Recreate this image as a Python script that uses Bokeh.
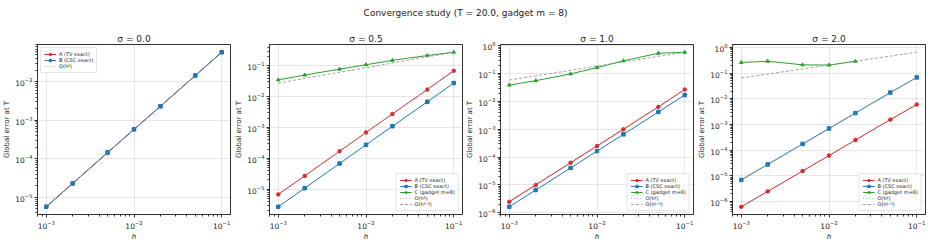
import numpy as np
from bokeh.plotting import figure
from bokeh.layouts import column, row
from bokeh.models import FixedTicker, Range1d, Legend, LegendItem
from bokeh.core.properties import value
from bokeh.embed import file_html
from bokeh.resources import INLINE

h = [0.001, 0.002, 0.005, 0.01, 0.02, 0.05, 0.1]
sigmas = ["0.0", "0.5", "1.0", "2.0"]

A0 = [5.7e-6, 2.3e-5, 1.45e-4, 5.8e-4, 2.3e-3, 1.45e-2, 5.8e-2]
B0 = [5.7e-6, 2.3e-5, 1.45e-4, 5.8e-4, 2.3e-3, 1.45e-2, 5.8e-2]

A1 = [6.8e-6, 2.7e-5, 1.7e-4, 6.9e-4, 2.75e-3, 1.7e-2, 6.9e-2]
B1 = [2.7e-6, 1.08e-5, 6.8e-5, 2.75e-4, 1.1e-3, 6.8e-3, 2.75e-2]
C1 = [0.035, 0.05, 0.078, 0.108, 0.15, 0.215, 0.275]

A2 = [2.5e-6, 1.0e-5, 6.3e-5, 2.5e-4, 1.0e-3, 6.4e-3, 2.7e-2]
B2 = [1.65e-6, 6.6e-6, 4.1e-5, 1.65e-4, 6.6e-4, 4.2e-3, 1.7e-2]
C2 = [0.039, 0.056, 0.098, 0.165, 0.29, 0.54, 0.59]

A3 = [6.3e-7, 2.5e-6, 1.55e-5, 6.2e-5, 2.5e-4, 1.55e-3, 6.0e-3]
B3 = [7.0e-6, 2.8e-5, 1.75e-4, 7.0e-4, 2.8e-3, 1.75e-2, 6.8e-2]
h3C = [0.001, 0.002, 0.005, 0.01, 0.02]
C3 = [0.26, 0.29, 0.21, 0.205, 0.29]

panels = [
    dict(A=A0, B=B0, hC=None, C=None, ref2=B0[-1], refhalf=None, loc="top_left"),
    dict(A=A1, B=B1, hC=h, C=C1, ref2=A1[-1], refhalf=C1[-1], loc="bottom_right"),
    dict(A=A2, B=B2, hC=h, C=C2, ref2=A2[-1], refhalf=C2[-1], loc="bottom_right"),
    dict(A=A3, B=B3, hC=h3C, C=C3, ref2=B3[-1], refhalf=0.65, loc="bottom_right"),
]

RED, BLUE, GREEN = "#d62728", "#1f77b4", "#2ca02c"
FONT = "DejaVu Sans"
TXT = "#222222"

widths = [232, 231, 232, 238]
rights = [2, 1, 2, 8]
figs = []
for i, (sig, d) in enumerate(zip(sigmas, panels)):
    harr = np.array(h)
    ref2 = d["ref2"] * (harr / h[-1]) ** 2
    series_vals = list(d["A"]) + list(d["B"]) + list(ref2)
    refh = None
    if d["C"] is not None:
        series_vals += list(d["C"])
        refh = d["refhalf"] * (harr / h[-1]) ** 0.5
        series_vals += list(refh)
    lo, hi = np.log10(min(series_vals)), np.log10(max(series_vals))
    m = 0.05 * (hi - lo)
    xlo, xhi = np.log10(h[0]), np.log10(h[-1])
    mx = 0.05 * (xhi - xlo)
    p = figure(x_axis_type="log", y_axis_type="log",
               x_range=Range1d(10 ** (xlo - mx), 10 ** (xhi + mx)),
               y_range=Range1d(10 ** (lo - m), 10 ** (hi + m)),
               width=widths[i], height=218,
               min_border_left=35, min_border_right=rights[i],
               min_border_top=19, min_border_bottom=25,
               output_backend="svg", toolbar_location=None,
               title="σ = " + sig)
    p.title.align = "center"
    p.title.text_font = FONT
    p.title.text_font_size = "9px"
    p.title.text_font_style = "normal"
    p.title.text_color = TXT
    p.title.standoff = 2
    p.title.offset = 0

    ylo, yhi = int(np.floor(lo - m)), int(np.ceil(hi + m))
    p.yaxis.ticker = FixedTicker(ticks=[10.0 ** k for k in range(ylo, yhi + 1)],
                                 minor_ticks=[j * 10.0 ** k for k in range(ylo - 1, yhi + 1) for j in range(2, 10)])
    p.xaxis.ticker = FixedTicker(ticks=[1e-3, 1e-2, 1e-1],
                                 minor_ticks=[j * 10.0 ** k for k in range(-4, 0) for j in range(2, 10)])
    for ax in (p.xaxis, p.yaxis):
        ax.major_label_text_font = FONT
        ax.major_label_text_font_size = "7.5px"
        ax.major_label_text_color = TXT
        ax.axis_label_text_font = FONT
        ax.axis_label_text_font_size = "7px"
        ax.axis_label_text_font_style = "normal"
        ax.axis_label_text_color = TXT
        ax.major_tick_in = 0
        ax.major_tick_out = 3
        ax.minor_tick_in = 0
        ax.minor_tick_out = 2
        ax.axis_line_color = "#333333"
        ax.major_tick_line_color = "#333333"
        ax.minor_tick_line_color = "#333333"
        ax.major_label_standoff = 2
        ax.axis_label_standoff = 1
    p.xaxis.axis_label = "h"
    p.xaxis.axis_label_text_font_style = "italic"
    p.yaxis.axis_label = "Global error at T"
    p.outline_line_color = "#333333"
    p.grid.grid_line_color = "#b0b0b0"
    p.grid.grid_line_alpha = 0.3

    items = []
    la = p.line(h, d["A"], line_color=RED, line_width=1)
    sa = p.scatter(h, d["A"], marker="circle", size=3.5, fill_color=RED, line_color=RED)
    items.append(LegendItem(label="A (TV exact)", renderers=[la, sa]))
    lb = p.line(h, d["B"], line_color=BLUE, line_width=1)
    sb = p.scatter(h, d["B"], marker="square", size=3.5, fill_color=BLUE, line_color=BLUE)
    items.append(LegendItem(label="B (CSC exact)", renderers=[lb, sb]))
    if d["C"] is not None:
        lc = p.line(d["hC"], d["C"], line_color=GREEN, line_width=1)
        sc = p.scatter(d["hC"], d["C"], marker="triangle", size=3.5, fill_color=GREEN, line_color=GREEN)
        items.append(LegendItem(label="C (gadget m=8)", renderers=[lc, sc]))
    lr2 = p.line(h, list(ref2), line_color="#999999", line_width=0.8, line_dash="1 2")
    items.append(LegendItem(label="O(h²)", renderers=[lr2]))
    if refh is not None:
        lrh = p.line(h, list(refh), line_color="#888888", line_width=0.8, line_dash="3 2")
        items.append(LegendItem(label="O(h¹ᐟ²)", renderers=[lrh]))

    leg = Legend(items=items, location=d["loc"])
    leg.label_text_font = FONT
    leg.label_text_font_size = "5px"
    leg.label_text_color = TXT
    leg.glyph_width = 12
    leg.glyph_height = 6
    leg.label_height = 6
    leg.label_standoff = 3
    leg.spacing = 0
    leg.padding = 3
    leg.margin = 3
    leg.border_line_color = "#cccccc"
    leg.background_fill_alpha = 0.8
    p.add_layout(leg)
    figs.append(p)

tp = figure(width=933, height=25, x_range=(0, 1), y_range=(0, 1),
            x_axis_location=None, y_axis_location=None,
            output_backend="svg", toolbar_location=None, min_border=0)
tp.outline_line_color = None
tp.grid.visible = False
tp.text(x=[0.5], y=[0.5], text=["Convergence study  (T = 20.0, gadget m = 8)"],
        text_align="center", text_baseline="middle", text_font=value(FONT),
        text_font_size="9px", text_color=TXT)

layout = column(tp, row(*figs))
open("out.html", "w").write(file_html(layout, INLINE))
